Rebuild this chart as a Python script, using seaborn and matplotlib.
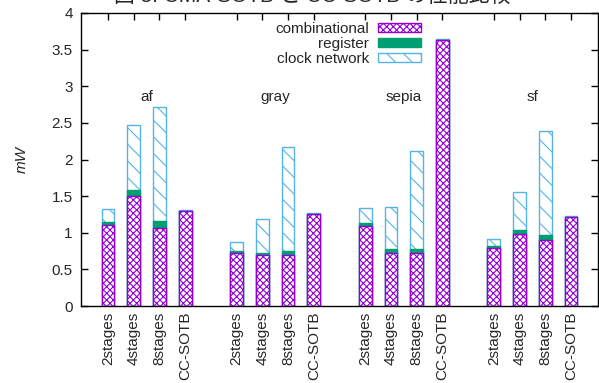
import numpy as np
import pandas as pd
import matplotlib
matplotlib.use("Agg")
import matplotlib.pyplot as plt
import seaborn as sns
from matplotlib.patches import Patch

# ---------------- data ----------------
groups = ["af", "gray", "sepia", "sf"]
configs = ["2stages", "4stages", "8stages", "CC-SOTB"]

combinational = [
    [1.10, 1.50, 1.07, 1.30],   # af
    [0.73, 0.70, 0.69, 1.26],   # gray
    [1.09, 0.73, 0.72, 3.63],   # sepia
    [0.79, 0.98, 0.905, 1.22],  # sf
]
register = [
    [0.04, 0.08, 0.09, 0.0],
    [0.025, 0.03, 0.055, 0.0],
    [0.045, 0.045, 0.055, 0.0],
    [0.025, 0.055, 0.06, 0.0],
]
clock_network = [
    [0.18, 0.89, 1.56, 0.01],
    [0.12, 0.455, 1.425, 0.01],
    [0.205, 0.575, 1.34, 0.015],
    [0.10, 0.515, 1.42, 0.01],
]
series_labels = ["combinational", "register", "clock network"]
yticks = [0, 0.5, 1, 1.5, 2, 2.5, 3, 3.5, 4]
ytick_labels = ["0", "0.5", "1", "1.5", "2", "2.5", "3", "3.5", "4"]
title_text = "図 5: CMA-SOTB と CC-SOTB の性能比較"

# ---------------- table ----------------
rows = []
for gi, g in enumerate(groups):
    for ci, c in enumerate(configs):
        rows.append(dict(pos=gi * 5 + ci, group=g, config=c,
                         comb=combinational[gi][ci],
                         reg=register[gi][ci],
                         clock=clock_network[gi][ci]))
df = pd.DataFrame(rows)
df["reg_top"] = df["comb"] + df["reg"]
df["total"] = df["reg_top"] + df["clock"]

PURPLE = "#9400d3"
GREEN = "#009e73"
BLUE = "#56b4e9"

sns.set_style("ticks")
plt.rcParams["font.family"] = ["Liberation Sans", "Noto Sans CJK JP"]
plt.rcParams["hatch.linewidth"] = 0.8
FS = 11

fig = plt.figure(figsize=(5.99, 3.83), dpi=100)
ax = fig.add_axes([81 / 599, 1 - 306 / 383, 517 / 599, 293 / 383])

common = dict(x="pos", native_scale=True, width=0.5, errorbar=None,
              saturation=1, linewidth=1, ax=ax)
sns.barplot(data=df, y="total", color="white", edgecolor=BLUE, hatch="\\\\", **common)
sns.barplot(data=df, y="reg_top", color=GREEN, edgecolor=GREEN, **common)
sns.barplot(data=df, y="comb", color="white", edgecolor=PURPLE, hatch="xxxxx", **common)

ax.set_xlim(-1.05, 19.05)
ax.set_ylim(0, 4)
ax.set_yticks(yticks)
ax.set_yticklabels(ytick_labels, fontsize=FS)
ax.set_xticks(df["pos"])
ax.set_xticklabels(df["config"], rotation=90, ha="center", va="top", fontsize=FS)
ax.tick_params(direction="in", top=True, right=True, length=5, width=1, color="black")
ax.tick_params(axis="x", pad=4)
ax.tick_params(axis="y", pad=6)
ax.set_xlabel("")
ax.set_ylabel("mW", fontsize=FS, style="italic")
ax.yaxis.set_label_coords(-0.102, 0.5)
for s in ax.spines.values():
    s.set_visible(True)
    s.set_color("black")
    s.set_linewidth(1)

for gi, g in enumerate(groups):
    ax.text(gi * 5 + 1.5, 2.86, g, ha="center", va="center", fontsize=FS)

handles = [
    Patch(facecolor="white", edgecolor=PURPLE, hatch="xxxxx", linewidth=1),
    Patch(facecolor=GREEN, edgecolor=GREEN, linewidth=1),
    Patch(facecolor="white", edgecolor=BLUE, hatch="\\\\", linewidth=1),
]
ax.legend(handles, series_labels, loc="upper right",
          bbox_to_anchor=((421 - 81) / 517, (306 - 22) / 293),
          frameon=False, markerfirst=False, borderpad=0, borderaxespad=0,
          handlelength=2.8, handleheight=0.55, handletextpad=0.6,
          labelspacing=0.05, fontsize=FS)

fig.text(312 / 599, 1 - 2 / 383, title_text, ha="center", va="baseline", fontsize=15)

fig.savefig("out.png", dpi=100)
